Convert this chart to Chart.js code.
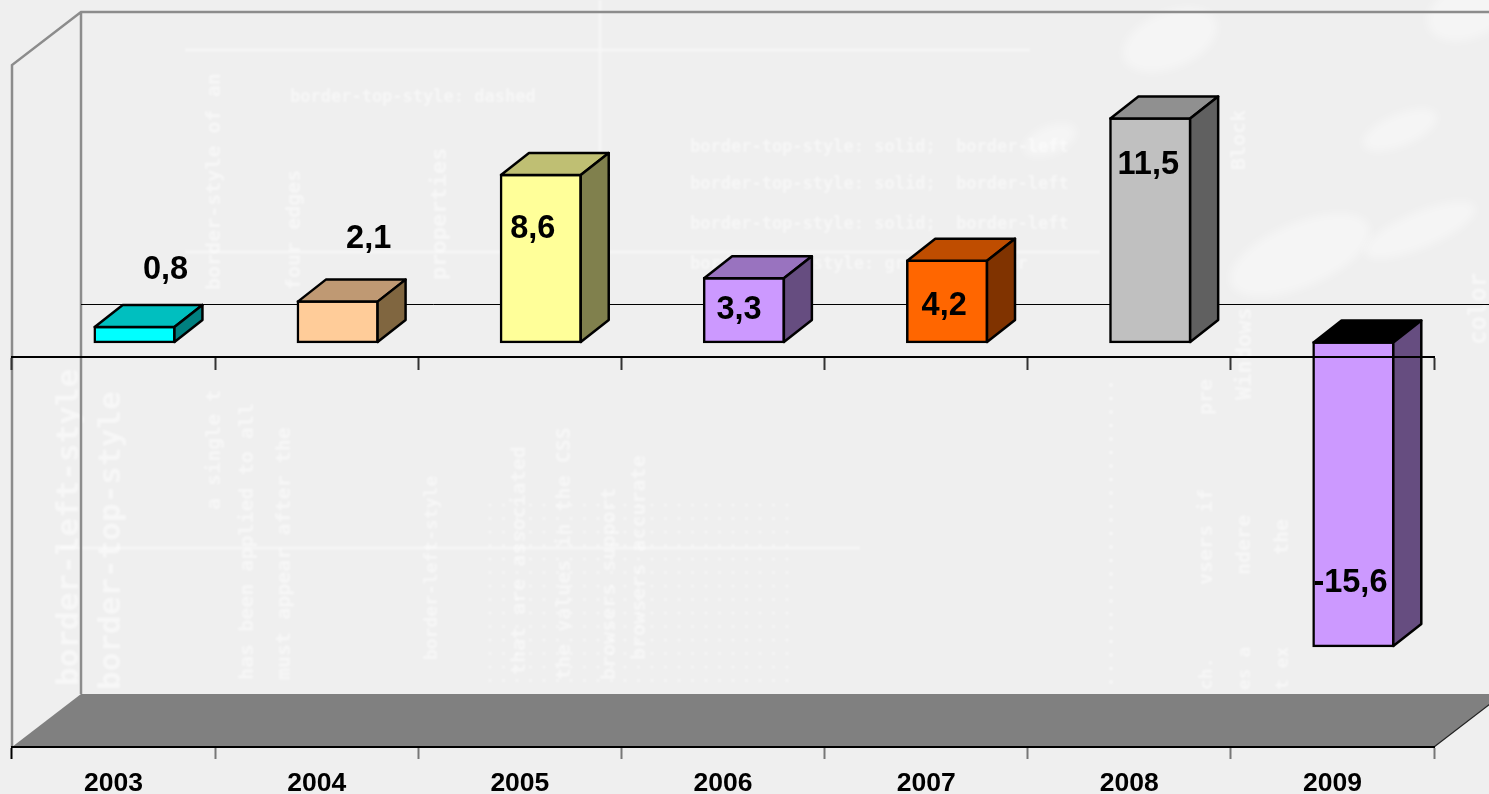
<!DOCTYPE html>
<html>
<head>
<meta charset="utf-8">
<style>
html,body{margin:0;padding:0;background:#efefef;overflow:hidden}
#wrap{position:relative;width:1489px;height:794px}
canvas{display:block}
</style>
<script src="https://cdn.jsdelivr.net/npm/chart.js@4/dist/chart.umd.min.js"></script>
</head>
<body>
<div id="wrap"><canvas id="c" width="1489" height="794"></canvas></div>
<script>
const years = ['2003','2004','2005','2006','2007','2008','2009'];
const values = [0.8, 2.1, 8.6, 3.3, 4.2, 11.5, -15.6];
const frontColors = ['#00FFFF','#FFCC99','#FFFF99','#CC99FF','#FF6600','#C0C0C0','#CC99FF'];
const topColors   = ['#00BFBF','#BF9973','#BFBF73','#9973BF','#BF4D00','#909090','#000000'];
const sideColors  = ['#008080','#806640','#80804D','#664D80','#803300','#606060','#664D80'];
const labelShifts = [[31,-57],[31,-62],[-8,54],[-5,32],[-3,46],[-2,47],[-3,241]];

const FONT = '"Liberation Sans", Arial, sans-serif';
const WALL = {dx:69, dy:-53};
const BAR_OFFSET = {x:21, y:-15};
const BAR_DEPTH = {x:28, y:-22};

/* faint scanned-text backdrop of the original slide */
const backdropColumns = [
  ['border-left-style', 70, 686, 31],
  ['border-top-style', 112, 690, 31],
  ['a single t', 215, 510, 20],
  ['has been applied to all', 248, 680, 20],
  ['must appear after the', 285, 680, 20],
  ['border-left-style', 432, 660, 18],
  ['that are associated', 520, 675, 20],
  ['the values in the CSS', 565, 680, 20],
  ['browsers support', 610, 680, 20],
  ['browsers accurate', 640, 660, 20],
  ['vsers if', 1207, 585, 20],
  ['ndere', 1245, 575, 20],
  ['the', 1283, 555, 20],
  ['pre', 1207, 415, 20],
  ['Windows', 1245, 400, 22],
  ['ch.', 1207, 690, 18],
  ['es a', 1245, 690, 18],
  ['t ex', 1283, 690, 18],
  ['four edges', 295, 290, 20],
  ['border-style of an', 215, 290, 20],
  ['properties', 440, 280, 22],
  ['color', 1480, 345, 24],
  ['Block', 1240, 170, 20]
];
const backdropRows = [
  ['border-top-style: solid;  border-left', 690, 148, 17],
  ['border-top-style: solid;  border-left', 690, 185, 17],
  ['border-top-style: solid;  border-left', 690, 225, 17],
  ['border-left-style: groove; border', 690, 265, 17],
  ['border-top-style: dashed', 290, 98, 17]
];
const backdropPlugin = {
  id:'backdrop',
  beforeDraw(chart){
    const c = chart.ctx;
    c.save();
    c.fillStyle = '#efefef';
    c.fillRect(0,0,chart.width,chart.height);
    c.filter = 'blur(1px)';
    c.fillStyle = 'rgba(255,255,255,0.5)';
    c.textBaseline = 'middle';
    c.textAlign = 'left';
    backdropColumns.forEach(([t,x,y,s])=>{
      c.save();
      c.translate(x,y);
      c.rotate(-Math.PI/2);
      c.font = 'bold '+s+'px "DejaVu Sans Mono", monospace';
      c.fillText(t,0,0);
      c.restore();
    });
    backdropRows.forEach(([t,x,y,s])=>{
      c.font = 'bold '+s+'px "DejaVu Sans Mono", monospace';
      c.fillText(t,x,y);
    });
    // dotted halftone column area in the lower half
    c.fillStyle = 'rgba(255,255,255,0.5)';
    for(let y=505;y<692;y+=13.5){
      for(let x=490;x<790;x+=13.5){
        c.beginPath();c.arc(x,y,1.6,0,Math.PI*2);c.fill();
      }
    }
    for(let y=385;y<692;y+=13.5){
      c.beginPath();c.arc(1111,y,2,0,Math.PI*2);c.fill();
    }
    // long pale rules and blotches of the scan
    c.strokeStyle = 'rgba(255,255,255,0.45)';
    c.lineWidth = 3;
    c.beginPath();
    c.moveTo(185,50);c.lineTo(1030,50);
    c.moveTo(185,252);c.lineTo(1100,252);
    c.moveTo(60,548);c.lineTo(860,548);
    c.moveTo(600,0);c.lineTo(600,280);
    c.stroke();
    c.filter = 'blur(5px)';
    c.fillStyle = 'rgba(255,255,255,0.4)';
    [[1170,40,50,28],[1470,10,45,28],[1300,255,75,32],[1400,130,40,16],[1420,230,60,18],[1050,140,28,14]].forEach(([x,y,a,b])=>{
      c.beginPath();c.ellipse(x,y,a,b,-0.4,0,Math.PI*2);c.fill();
    });
    c.restore();
  }
};

const wallsPlugin = {
  id:'walls',
  beforeDatasetsDraw(chart){
    const c = chart.ctx, a = chart.chartArea, y0 = chart.scales.y.getPixelForValue(0);
    const bx = a.left+WALL.dx, R = a.right+WALL.dx;
    c.save();
    // floor
    c.fillStyle = '#808080';
    c.beginPath();
    c.moveTo(a.left,a.bottom);
    c.lineTo(bx,a.bottom+WALL.dy);
    c.lineTo(R,a.bottom+WALL.dy);
    c.lineTo(a.right,a.bottom);
    c.closePath();
    c.fill();
    // wall outlines
    c.strokeStyle = '#8c8c8c';
    c.lineWidth = 2.5;
    c.beginPath();
    c.moveTo(a.left,a.bottom);
    c.lineTo(a.left,a.top);
    c.lineTo(bx,a.top+WALL.dy);
    c.lineTo(R,a.top+WALL.dy);
    c.moveTo(bx,a.top+WALL.dy);
    c.lineTo(bx,a.bottom+WALL.dy);
    c.stroke();
    // edge of floor
    c.strokeStyle = '#222';
    c.lineWidth = 1.2;
    c.beginPath();
    c.moveTo(a.right,a.bottom);
    c.lineTo(R,a.bottom+WALL.dy);
    c.stroke();
    // zero line on the back wall
    c.strokeStyle = '#000';
    c.lineWidth = 1;
    c.beginPath();
    c.moveTo(bx,Math.round(y0+WALL.dy)+0.5);
    c.lineTo(R,Math.round(y0+WALL.dy)+0.5);
    c.stroke();
    c.restore();
    // the columns stand in the middle of the floor depth
    c.save();
    c.translate(BAR_OFFSET.x,BAR_OFFSET.y);
  },
  afterDatasetsDraw(chart){
    const c = chart.ctx, meta = chart.getDatasetMeta(0);
    c.lineWidth = 2.5;
    c.lineJoin = 'round';
    c.strokeStyle = '#000';
    meta.data.forEach((el,i)=>{
      const p = el.getProps(['x','y','base','width'],true);
      const l = p.x-p.width/2+0.25, r = p.x+p.width/2-0.25;
      const t = Math.min(p.y,p.base)+0.25, b = Math.max(p.y,p.base)-0.25;
      const dx = BAR_DEPTH.x, dy = BAR_DEPTH.y;
      c.fillStyle = topColors[i];
      c.beginPath();
      c.moveTo(l,t); c.lineTo(l+dx,t+dy); c.lineTo(r+dx,t+dy); c.lineTo(r,t); c.closePath();
      c.fill(); c.stroke();
      c.fillStyle = sideColors[i];
      c.beginPath();
      c.moveTo(r,t); c.lineTo(r+dx,t+dy); c.lineTo(r+dx,b+dy); c.lineTo(r,b); c.closePath();
      c.fill(); c.stroke();
    });
    c.restore();
    // value labels
    c.save();
    c.fillStyle = '#000';
    c.font = 'bold 32.5px '+FONT;
    c.textAlign = 'center';
    c.textBaseline = 'middle';
    meta.data.forEach((el,i)=>{
      const p = el.getProps(['x','y','base'],true);
      const top = Math.min(p.y,p.base)+BAR_OFFSET.y;
      c.fillText(String(values[i]).replace('.',','), p.x+BAR_OFFSET.x+labelShifts[i][0], top+labelShifts[i][1]);
    });
    c.restore();
  }
};

new Chart(document.getElementById('c'),{
  type:'bar',
  data:{
    labels:years,
    datasets:[{
      data:values,
      backgroundColor:frontColors,
      borderColor:'#000',
      borderWidth:2.5,
      borderSkipped:false,
      inflateAmount:1,
      categoryPercentage:1,
      barPercentage:0.395,
      clip:false
    }]
  },
  plugins:[backdropPlugin,wallsPlugin],
  options:{
    responsive:false,
    animation:false,
    devicePixelRatio:1,
    layout:{padding:{left:12,right:55,top:65,bottom:0}},
    plugins:{legend:{display:false},tooltip:{enabled:false},title:{display:false}},
    scales:{
      y:{display:false,min:-20,max:15},
      x:{
        type:'category',
        position:'bottom',
        afterFit(s){s.height=47;},
        border:{display:true,color:'#000',width:2,z:1},
        grid:{display:true,drawOnChartArea:false,offset:true,tickLength:12,tickWidth:2,
          tickColor:ctx=>ctx.index===0?'#000':'#777'},
        ticks:{color:'#000',padding:9,maxRotation:0,autoSkip:false,font:{family:FONT,size:26.5,weight:'bold'}}
      },
      x2:{
        type:'category',
        labels:years,
        offset:true,
        position:{y:0},
        border:{display:true,color:'#000',width:2,z:1},
        grid:{display:true,drawOnChartArea:false,offset:true,tickLength:12,tickWidth:2,tickColor:'#333',z:1},
        ticks:{display:false}
      }
    }
  }
});
</script>
</body>
</html>
